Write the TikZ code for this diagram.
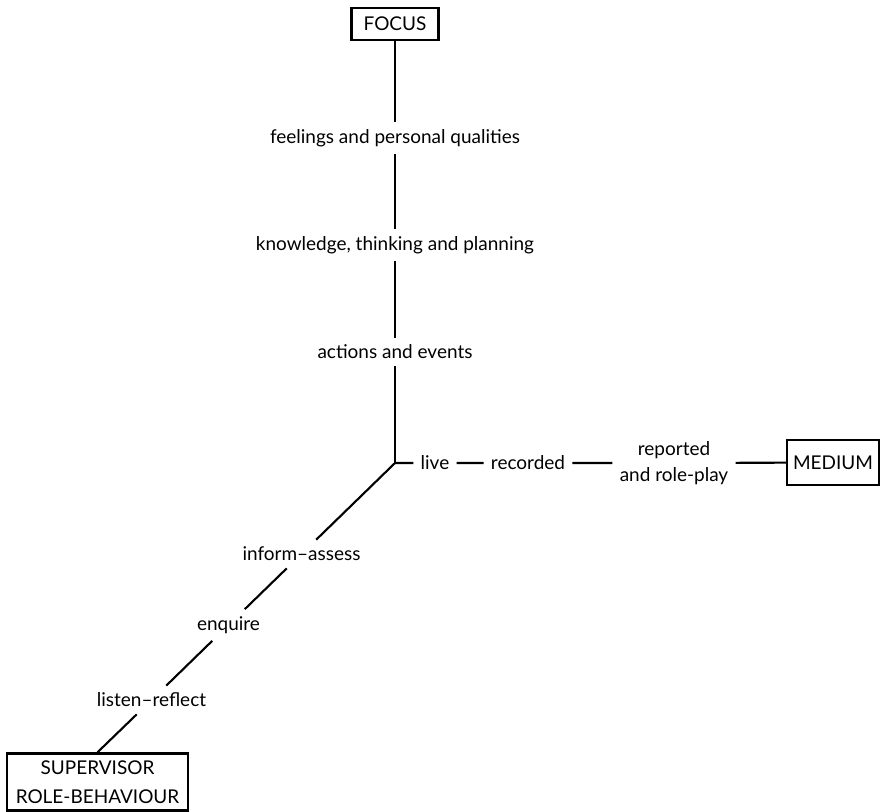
\documentclass[tikz,border=0pt]{standalone}
\usepackage{fontspec}
\setmainfont{Lato}
\begin{document}
\begin{tikzpicture}[x=0.025cm,y=-0.025cm,
  every node/.style={font=\fontsize{13.5}{18.5}\selectfont},
  box/.style={draw,line width=1.7pt,inner sep=0pt,align=center},
  lbl/.style={inner sep=5pt,align=center},
  link/.style={line width=1.5pt}]

\useasboundingbox (0,0) rectangle (880,811); % page size

% Boxes at the three ends
\node[box,minimum width=2.175cm,minimum height=0.8cm] (focus) at (395,24) {FOCUS};
\node[box,minimum width=2.3cm,minimum height=1.125cm] (medium) at (833,462.5) {MEDIUM};
\node[box,minimum width=4.525cm,minimum height=1.425cm,
  font=\fontsize{13.5}{21}\selectfont] (super) at (97.5,782) {SUPERVISOR\\ROLE-BEHAVIOUR};

\coordinate (centre) at (395,463); % where the three axes meet

% Focus axis
\node[lbl] (feel) at (395,138) {feelings and personal qualities};
\node[lbl] (know) at (395,245) {knowledge, thinking and planning};
\node[lbl] (act) at (395,352) {actions and events};

% Medium axis
\node[lbl] (live) at (435,463) {live};
\node[lbl] (rec) at (528,463) {recorded};
\node[lbl] (rep) at (674,463) {reported\\and role-play};

% Role axis
\node[lbl] (inform) at (301.5,554) {inform--assess};
\node[lbl] (enq) at (228.5,625) {enquire};
\node[lbl] (listen) at (151.5,700) {listen--reflect};

% Connectors
\draw[link] (focus) -- (feel) -- (know) -- (act) -- (centre);
\draw[link] (centre) -- (live) -- (rec) -- (rep) -- (medium);
\draw[link] (centre) -- (inform) -- (enq) -- (listen) -- (super.north);

\end{tikzpicture}
\end{document}
